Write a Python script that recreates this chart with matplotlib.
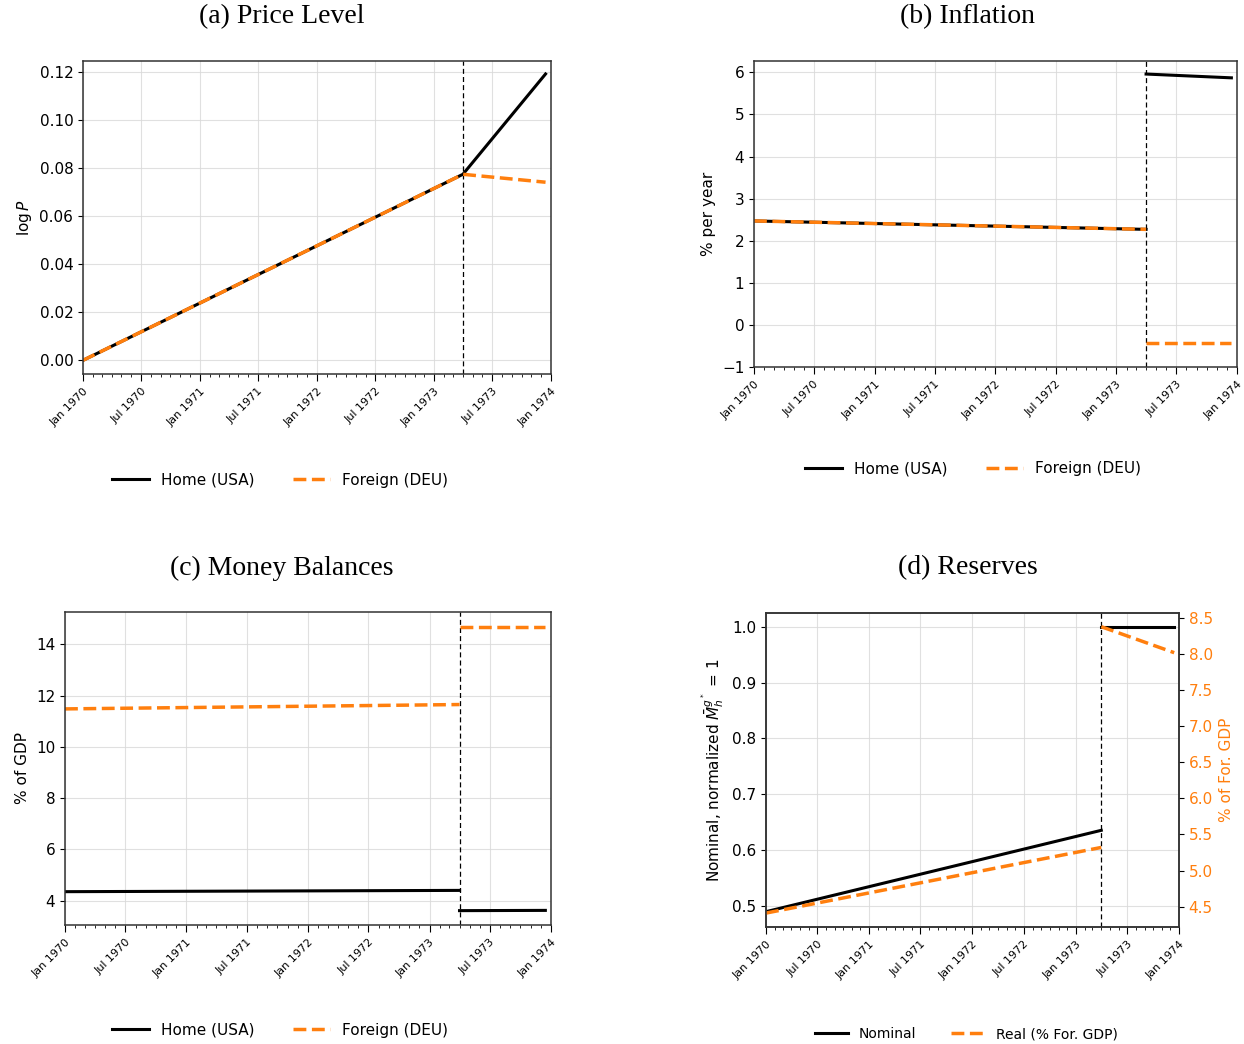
"""
Four-panel replication: price level, inflation, money balances and reserves
around the April 1973 break.
"""

from datetime import datetime

import matplotlib

matplotlib.use("Agg")
import matplotlib.pyplot as plt
import matplotlib.dates as mdates

BLACK = "black"
ORANGE = "#ff7f0e"

# ---- data (segment end points) ----
START = datetime(1970, 1, 1)
BREAK = datetime(1973, 4, 1)
END = datetime(1973, 12, 15)

pre_dates = [START, BREAK]
post_dates = [BREAK, END]
full_dates = [START, BREAK, END]

# (a) log price level
logp_home = [0.0, 0.0775, 0.1193]
logp_foreign = [0.0, 0.0775, 0.0742]

# (b) inflation, % per year
infl_home_pre = [2.47, 2.27]
infl_home_post = [5.96, 5.87]
infl_foreign_pre = [2.47, 2.27]
infl_foreign_post = [-0.44, -0.44]

# (c) money balances, % of GDP
money_home_pre = [4.35, 4.40]
money_home_post = [3.61, 3.62]
money_foreign_pre = [11.48, 11.65]
money_foreign_post = [14.69, 14.69]

# (d) reserves
res_nominal_pre = [0.489, 0.635]
res_nominal_post = [1.0, 1.0]
res_real_pre = [4.41, 5.32]
res_real_post = [8.38, 8.02]

W, H = 1244, 1044
fig = plt.figure(figsize=(W / 100, H / 100), dpi=100)


def ax_at(left, top, right, bottom):
    return fig.add_axes([left / W, 1 - bottom / H, (right - left) / W, (bottom - top) / H])


def style_axis(ax):
    ax.set_xlim(datetime(1970, 1, 1), datetime(1974, 1, 1))
    ax.xaxis.set_major_locator(mdates.MonthLocator(bymonth=(1, 7)))
    ax.xaxis.set_minor_locator(mdates.MonthLocator())
    ax.xaxis.set_major_formatter(mdates.DateFormatter("%b %Y"))
    for lab in ax.get_xticklabels():
        lab.set_rotation(45)
        lab.set_ha("right")
        lab.set_rotation_mode("anchor")
        lab.set_fontsize(8)
    ax.tick_params(axis="y", labelsize=11)
    ax.tick_params(axis="x", which="major", length=5)
    ax.tick_params(axis="x", which="minor", length=2.5)
    for sp in ax.spines.values():
        sp.set_color("#333333")
        sp.set_linewidth(1.1)
    ax.grid(True, color="#d9d9d9", linewidth=0.8, alpha=0.8)
    ax.set_axisbelow(True)
    ax.axvline(BREAK, color=BLACK, linestyle="--", linewidth=0.9, dashes=(4, 2.5))


def legend_at(ax, handles, labels, x, y, size=11):
    ax.legend(handles, labels, loc="center", bbox_to_anchor=(x / W, 1 - y / H),
              bbox_transform=fig.transFigure, ncol=2, frameon=False,
              fontsize=size, handlelength=2.4, columnspacing=2.5)


def title_at(text, x, y):
    fig.text(x / W, 1 - y / H, text, ha="center", va="center",
             family="Liberation Serif", fontsize=20)


LW_K = 2.2
LW_O = 2.5

# ---- (a) Price Level ----
ax = ax_at(83, 61, 551, 374)
style_axis(ax)
h1, = ax.plot(full_dates, logp_home, color=BLACK, lw=LW_K)
h2, = ax.plot(full_dates, logp_foreign, color=ORANGE, lw=LW_O, ls="--")
ax.set_ylim(-0.0057, 0.1247)
ax.set_yticks([0.0, 0.02, 0.04, 0.06, 0.08, 0.10, 0.12])
ax.yaxis.set_major_formatter(matplotlib.ticker.FormatStrFormatter("%.2f"))
ax.set_ylabel(r"$\log P$", fontsize=11)
legend_at(ax, [h1, h2], ["Home (USA)", "Foreign (DEU)"], 280, 480)
title_at("(a) Price Level", 282, 17)

# ---- (b) Inflation ----
ax = ax_at(754, 61, 1237, 367)
style_axis(ax)
h1, = ax.plot(pre_dates, infl_home_pre, color=BLACK, lw=LW_K)
ax.plot(post_dates, infl_home_post, color=BLACK, lw=LW_K)
h2, = ax.plot(pre_dates, infl_foreign_pre, color=ORANGE, lw=LW_O, ls="--")
ax.plot(post_dates, infl_foreign_post, color=ORANGE, lw=LW_O, ls="--")
ax.set_ylim(-1, 6.27)
ax.set_yticks(range(-1, 7))
ax.set_ylabel("% per year", fontsize=11)
legend_at(ax, [h1, h2], ["Home (USA)", "Foreign (DEU)"], 973, 469)
title_at("(b) Inflation", 968, 17)

# ---- (c) Money Balances ----
ax = ax_at(65, 612, 551, 925)
style_axis(ax)
h1, = ax.plot(pre_dates, money_home_pre, color=BLACK, lw=LW_K)
ax.plot(post_dates, money_home_post, color=BLACK, lw=LW_K)
h2, = ax.plot(pre_dates, money_foreign_pre, color=ORANGE, lw=LW_O, ls="--")
ax.plot(post_dates, money_foreign_post, color=ORANGE, lw=LW_O, ls="--")
ax.set_ylim(3.05, 15.26)
ax.set_yticks([4, 6, 8, 10, 12, 14])
ax.set_ylabel("% of GDP", fontsize=11)
legend_at(ax, [h1, h2], ["Home (USA)", "Foreign (DEU)"], 280, 1030)
title_at("(c) Money Balances", 282, 568)

# ---- (d) Reserves ----
ax = ax_at(766, 613, 1179, 927)
style_axis(ax)
h1, = ax.plot(pre_dates, res_nominal_pre, color=BLACK, lw=LW_K)
ax.plot(post_dates, res_nominal_post, color=BLACK, lw=LW_K)
ax.set_ylim(0.4615, 1.025)
ax.set_yticks([0.5, 0.6, 0.7, 0.8, 0.9, 1.0])
ax.set_ylabel(r"Nominal, normalized $\bar{M}_h^{g^*}$ = 1", fontsize=11)
ax2 = ax.twinx()
for sp in ax2.spines.values():
    sp.set_color("#333333")
    sp.set_linewidth(1.1)
h2, = ax2.plot(pre_dates, res_real_pre, color=ORANGE, lw=LW_O, ls="--")
ax2.plot(post_dates, res_real_post, color=ORANGE, lw=LW_O, ls="--")
ax2.set_ylim(4.217, 8.57)
ax2.set_yticks([4.5, 5.0, 5.5, 6.0, 6.5, 7.0, 7.5, 8.0, 8.5])
ax2.tick_params(axis="y", labelsize=11, labelcolor=ORANGE)
ax2.set_ylabel("% of For. GDP", fontsize=11, color=ORANGE)
legend_at(ax, [h1, h2], ["Nominal", "Real (% For. GDP)"], 966, 1034, size=10)
title_at("(d) Reserves", 968, 568)

fig.savefig("out.png", dpi=100)
